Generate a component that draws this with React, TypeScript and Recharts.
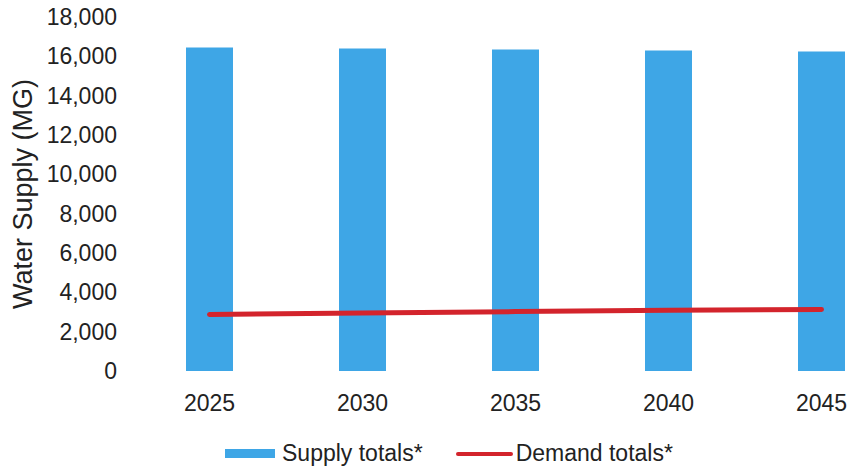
import { ComposedChart, Bar, Line, XAxis, YAxis, Legend } from 'recharts';

const years = ['2025', '2030', '2035', '2040', '2045'];
const supplyTotals = [16450, 16400, 16350, 16300, 16250];
const demandTotals = [2870, 2950, 3020, 3090, 3130];
const yTicks = [0, 2000, 4000, 6000, 8000, 10000, 12000, 14000, 16000, 18000];

const BLUE = '#3ea6e6';
const RED = '#d3242c';
const TEXT = '#222222';
const FONT = '"Liberation Sans", Arial, sans-serif';

const data = years.map((year, i) => ({
  year,
  supply: supplyTotals[i],
  demand: demandTotals[i],
}));

function ChartLegend() {
  return (
    <div style={{ display: 'flex', alignItems: 'center', fontFamily: FONT, fontSize: 23, color: TEXT, whiteSpace: 'nowrap' }}>
      <span style={{ display: 'inline-block', width: 50, height: 9, background: BLUE, marginRight: 7 }} />
      <span>Supply totals*</span>
      <span style={{ display: 'inline-block', width: 57, height: 4, background: RED, borderRadius: 2, marginLeft: 33, marginRight: 3 }} />
      <span>Demand totals*</span>
    </div>
  );
}

export default function App() {
  return (
    <div style={{ position: 'absolute', left: 0, top: 0, width: 848, height: 470, overflow: 'hidden', background: '#fff' }}>
      <ComposedChart
        width={898}
        height={470}
        data={data}
        margin={{ top: 17, right: 0, bottom: 0, left: 0 }}
      >
        <XAxis
          dataKey="year"
          axisLine={false}
          tickLine={false}
          tickSize={0}
          tickMargin={24}
          height={99}
          tick={{ fontSize: 23, fill: TEXT, fontFamily: FONT }}
        />
        <YAxis
          domain={[0, 18000]}
          ticks={yTicks}
          axisLine={false}
          tickLine={false}
          tickSize={0}
          tickMargin={16}
          width={133}
          tickFormatter={(v: number) => v.toLocaleString('en-US')}
          tick={{ fontSize: 23, fill: TEXT, fontFamily: FONT }}
          label={{
            value: 'Water Supply (MG)',
            angle: -90,
            position: 'insideLeft',
            offset: 22,
            style: { textAnchor: 'middle', fontSize: 27, fill: TEXT, fontFamily: FONT },
          }}
        />
        <Legend
          layout="horizontal"
          verticalAlign="middle"
          align="center"
          wrapperStyle={{ position: 'absolute', left: 225, top: 440, width: 'auto' }}
          content={() => <ChartLegend />}
        />
        <Bar dataKey="supply" name="Supply totals*" fill={BLUE} barSize={47} isAnimationActive={false} />
        <Line
          type="linear"
          dataKey="demand"
          name="Demand totals*"
          stroke={RED}
          strokeWidth={5}
          strokeLinecap="round"
          dot={false}
          activeDot={false}
          isAnimationActive={false}
        />
      </ComposedChart>
    </div>
  );
}
